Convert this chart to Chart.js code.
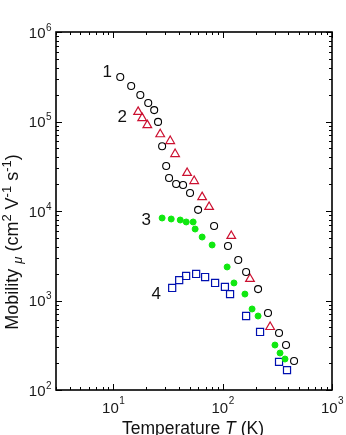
<!DOCTYPE html>
<html>
<head>
<meta charset="utf-8">
<script src="https://cdn.jsdelivr.net/npm/chart.js@4/dist/chart.umd.min.js"></script>
<style>
  html, body { margin: 0; padding: 0; background: #fff; }
  #wrap { width: 346px; height: 435px; position: relative; }
</style>
</head>
<body>
<div id="wrap"><canvas id="chart"></canvas></div>
<script>
// Carrier mobility versus temperature, four samples (log-log)
const s1T  = [11.6, 14.6, 17.7, 20.9, 23.7, 25.7, 28.0, 30.5, 32.4, 37.6, 43.5, 50.4, 59.7, 83.6, 112, 139, 164, 211, 260, 328, 380, 450];
const s1Mu = [314000, 249000, 198000, 161000, 134000, 99000, 53000, 31800, 23400, 20000, 19500, 15900, 10300, 6800, 4060, 2840, 2080, 1340, 724, 433, 318, 211];

const s2T  = [16.9, 18.4, 20.5, 26.9, 33.2, 36.8, 47.4, 55.0, 65.0, 75.3, 120, 178, 272];
const s2Mu = [128000, 109000, 91000, 72000, 60500, 43300, 26600, 21600, 14300, 11100, 5260, 1740, 506];

const s3T  = [28.0, 33.9, 41.0, 46.5, 53.8, 56.1, 65.0, 80.2, 110, 127, 160, 186, 211, 301, 335, 372];
const s3Mu = [8350, 8140, 7930, 7540, 7540, 6290, 5120, 4170, 2370, 1570, 1180, 804, 671, 318, 259, 222];

const s4T  = [34.6, 40.1, 46.4, 57.3, 69.2, 85.4, 105, 117, 164, 220, 328, 388];
const s4Mu = [1380, 1690, 1880, 1980, 1830, 1570, 1420, 1180, 671, 445, 206, 167];

// Sample numbers written beside each data set (anchored in data units)
const sampleNames = ['1', '2', '3', '4'];
const nameT  = [8.8, 12.1, 20.0, 24.7];
const nameMu = [357000, 112000, 7900, 1180];

// Decade tick labels (powers of ten)
const xTickExponents = [1, 2, 3];
const yTickExponents = [2, 3, 4, 5, 6];

const FONT = '"Liberation Sans", Arial, Helvetica, sans-serif';

const pts = (xs, ys) => xs.map((x, i) => ({ x: x, y: ys[i] }));

// Draws the boxed frame, inward log ticks on all sides, 10^n labels,
// axis titles with sub/superscripts and the sample numbers.
const framePlugin = {
  id: 'frame',
  afterDraw(chart) {
    const { ctx, chartArea: a, scales } = chart;
    const xs = scales.x, ys = scales.y;
    ctx.save();
    ctx.strokeStyle = '#000';
    ctx.lineWidth = 1.6;
    ctx.strokeRect(a.left, a.top, a.right - a.left, a.bottom - a.top);

    ctx.lineWidth = 1;
    const logTicks = (min, max) => {
      const out = [];
      for (let k = Math.floor(Math.log10(min)); k <= Math.ceil(Math.log10(max)); k++) {
        for (let m = 1; m <= 9; m++) {
          const v = m * Math.pow(10, k);
          if (v >= min * 0.999 && v <= max * 1.001) out.push({ v: v, major: m === 1 });
        }
      }
      return out;
    };
    ctx.beginPath();
    logTicks(xs.min, xs.max).forEach(t => {
      const px = Math.round(xs.getPixelForValue(t.v)) + 0.5;
      const len = t.major ? 6 : 3;
      ctx.moveTo(px, a.bottom); ctx.lineTo(px, a.bottom - len);
      ctx.moveTo(px, a.top); ctx.lineTo(px, a.top + len);
    });
    logTicks(ys.min, ys.max).forEach(t => {
      const py = Math.round(ys.getPixelForValue(t.v)) + 0.5;
      const len = t.major ? 6 : 3;
      ctx.moveTo(a.left, py); ctx.lineTo(a.left + len, py);
      ctx.moveTo(a.right, py); ctx.lineTo(a.right - len, py);
    });
    ctx.stroke();

    // tick labels
    ctx.fillStyle = '#1a1a1a';
    ctx.textBaseline = 'alphabetic';
    ctx.textAlign = 'left';
    const baseFont = '15px ' + FONT, expFont = '10px ' + FONT;
    xTickExponents.forEach(e => {
      const px = xs.getPixelForValue(Math.pow(10, e));
      ctx.font = baseFont; const wb = ctx.measureText('10').width;
      ctx.font = expFont;  const we = ctx.measureText(String(e)).width;
      const x0 = px - (wb + we) / 2;
      ctx.font = baseFont; ctx.fillText('10', x0, a.bottom + 23);
      ctx.font = expFont;  ctx.fillText(String(e), x0 + wb + 0.5, a.bottom + 14);
    });
    yTickExponents.forEach(e => {
      const py = ys.getPixelForValue(Math.pow(10, e));
      ctx.font = baseFont; const wb = ctx.measureText('10').width;
      ctx.fillText('10', a.left - 10.5 - wb, py + 5.5);
      ctx.font = expFont;  ctx.fillText(String(e), a.left - 10, py - 1.5);
    });

    // rich text helper: segments of [text, style] where style is n/i/sup/sub
    const segFont = (s, size) => {
      const small = s === 'sup' || s === 'sub' || s === 'subi';
      const ital = s === 'i' || s === 'subi';
      return (ital ? 'italic ' : '') + (small ? Math.round(size * 0.7) : size) + 'px ' + FONT;
    };
    const segShift = s => (s === 'sup' ? -7 : (s === 'sub' || s === 'subi') ? 4 : 0);
    const drawRich = (segs, cx, cy, size) => {
      let total = 0;
      segs.forEach(([t, s]) => { ctx.font = segFont(s, size); total += ctx.measureText(t).width; });
      let x = cx - total / 2;
      segs.forEach(([t, s]) => {
        ctx.font = segFont(s, size);
        ctx.fillText(t, x, cy + segShift(s));
        x += ctx.measureText(t).width;
      });
    };
    ctx.fillStyle = '#111';
    drawRich([['Temperature ', 'n'], ['T', 'i'], [' (K)', 'n']], 193, 434, 17.5);

    ctx.save();
    ctx.translate(18, 242);
    ctx.rotate(-Math.PI / 2);
    drawRich([['Mobility ', 'n'], ['\u03BC', 'subi'], [' (cm', 'n'], ['2', 'sup'],
              [' V', 'n'], ['-1', 'sup'], [' s', 'n'], ['-1', 'sup'], [')', 'n']], 0, 0, 18);
    ctx.restore();

    // sample numbers
    ctx.font = '17px ' + FONT;
    ctx.textAlign = 'center';
    ctx.textBaseline = 'middle';
    sampleNames.forEach((n, i) => {
      ctx.fillText(n, xs.getPixelForValue(nameT[i]), ys.getPixelForValue(nameMu[i]));
    });
    ctx.restore();
  }
};

new Chart(document.getElementById('chart'), {
  type: 'scatter',
  data: {
    datasets: [
      { label: '1', data: pts(s1T, s1Mu), pointStyle: 'circle', pointRadius: 3.5,
        borderColor: '#000', backgroundColor: 'rgba(0,0,0,0)', borderWidth: 1.1 },
      { label: '2', data: pts(s2T, s2Mu), pointStyle: 'triangle', pointRadius: 5,
        borderColor: '#cc1030', backgroundColor: 'rgba(0,0,0,0)', borderWidth: 1.2 },
      { label: '3', data: pts(s3T, s3Mu), pointStyle: 'circle', pointRadius: 3,
        borderColor: '#10e810', backgroundColor: '#10e810', borderWidth: 1 },
      { label: '4', data: pts(s4T, s4Mu), pointStyle: 'rect', pointRadius: 5,
        borderColor: '#0010b0', backgroundColor: 'rgba(0,0,0,0)', borderWidth: 1.2 }
    ]
  },
  options: {
    responsive: true,
    maintainAspectRatio: false,
    animation: false,
    layout: { padding: { left: 56, right: 14, top: 32, bottom: 45 } },
    plugins: { legend: { display: false }, tooltip: { enabled: false } },
    scales: {
      x: { type: 'logarithmic', min: 3, max: 1000, display: false },
      y: { type: 'logarithmic', min: 100, max: 1000000, display: false }
    }
  },
  plugins: [framePlugin]
});
</script>
</body>
</html>
